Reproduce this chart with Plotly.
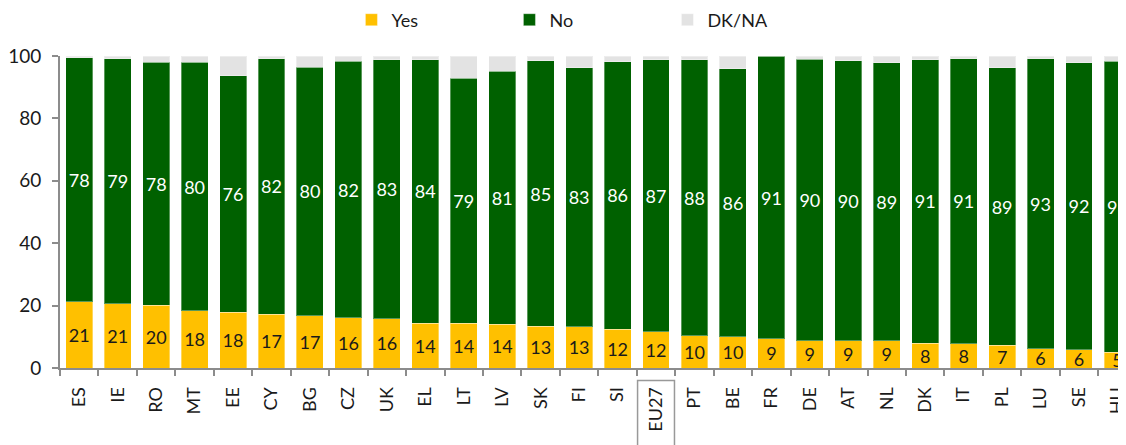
import plotly.graph_objects as go

countries = ["ES", "IE", "RO", "MT", "EE", "CY", "BG", "CZ", "UK", "EL",
             "LT", "LV", "SK", "FI", "SI", "EU27", "PT", "BE", "FR", "DE",
             "AT", "NL", "DK", "IT", "PL", "LU", "SE", "HU"]

yes = [21.2, 20.6, 20.1, 18.3, 17.9, 17.3, 16.8, 16.1, 15.8, 14.4,
       14.3, 14.1, 13.4, 13.2, 12.4, 11.6, 10.4, 10.0, 9.3, 8.8,
       8.8, 8.8, 8.0, 7.7, 7.3, 6.1, 5.9, 5.0]

no = [78.2, 78.6, 77.9, 79.7, 75.8, 81.8, 79.6, 82.2, 83.0, 84.4,
      78.6, 81.0, 85.0, 83.0, 85.8, 87.2, 88.4, 85.9, 90.6, 90.1,
      89.6, 89.0, 90.8, 91.4, 88.9, 93.0, 92.0, 93.3]

dk_na = [0.6, 0.8, 2.0, 2.0, 6.3, 0.9, 3.6, 1.7, 1.2, 1.2,
         7.1, 4.9, 1.6, 3.8, 1.8, 1.2, 1.2, 4.1, 0.1, 1.1,
         1.6, 2.2, 1.2, 0.9, 3.8, 0.9, 2.1, 1.7]

FONT = "Lato, 'Open Sans', sans-serif"
TEXT_COL = "#1a1a1a"
AXIS_COL = "#8c8c8c"
EDGE = "rgba(255,255,255,0.35)"

fig = go.Figure()

fig.add_trace(go.Bar(
    x=countries, y=yes, name="Yes",
    marker=dict(color="#FFC000", line=dict(color=EDGE, width=1)),
    texttemplate="%{y:.0f}", textposition="inside", insidetextanchor="middle",
    textangle=0, constraintext="none",
    textfont=dict(color=TEXT_COL, size=18, family=FONT),
))
fig.add_trace(go.Bar(
    x=countries, y=no, name="No",
    marker=dict(color="#006100", line=dict(color=EDGE, width=1)),
    texttemplate="%{y:.0f}", textposition="inside", insidetextanchor="middle",
    textangle=0, constraintext="none",
    textfont=dict(color="white", size=18, family=FONT),
))
fig.add_trace(go.Bar(
    x=countries, y=dk_na, name="DK/NA",
    marker=dict(color="#E3E3E3", line=dict(color=EDGE, width=1)),
))

# box around the EU27 tick label
fig.add_shape(type="rect", xref="x", yref="paper",
              x0=14.52, x1=15.48, y0=-0.04, y1=-0.32,
              line=dict(color="#999999", width=1.5), layer="above")

# the page body adds an 8px offset, so the figure is drawn slightly up/left
fig.update_layout(
    barmode="stack",
    bargap=0.3,
    width=1126, height=445,
    margin=dict(l=52, r=0, t=48, b=84.5, autoexpand=False),
    plot_bgcolor="white", paper_bgcolor="white",
    font=dict(family=FONT, size=18, color=TEXT_COL),
    uniformtext=dict(mode="show", minsize=10),
    legend=dict(
        orientation="h", xref="container", yref="container",
        x=0.305, y=0.973, xanchor="left", yanchor="middle",
        traceorder="normal", entrywidth=113, entrywidthmode="pixels",
        itemwidth=30, font=dict(size=18, family=FONT, color=TEXT_COL),
    ),
    showlegend=True,
)

fig.update_xaxes(
    type="category", range=[-0.5, 27.43],
    tickangle=-90, tickson="boundaries", ticklabelstandoff=10,
    ticks="outside", ticklen=6, tickcolor=AXIS_COL, tickwidth=1.5,
    showline=True, linecolor=AXIS_COL, linewidth=2,
    showgrid=False, tickfont=dict(size=18, family=FONT, color=TEXT_COL),
)
fig.update_yaxes(
    range=[0, 100], tickvals=[0, 20, 40, 60, 80, 100],
    ticks="outside", ticklen=6, tickcolor=AXIS_COL, tickwidth=1.5,
    showline=True, linecolor=AXIS_COL, linewidth=2,
    showgrid=False, zeroline=False, ticklabelstandoff=7,
    tickfont=dict(size=19, family=FONT, color=TEXT_COL),
)

fig.write_html("out.html")
